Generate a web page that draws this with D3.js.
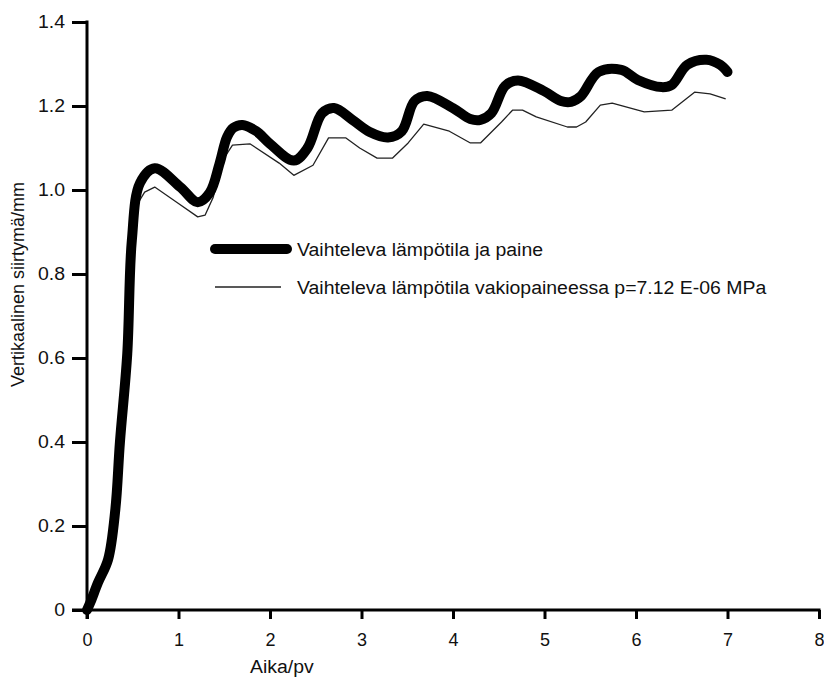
<!DOCTYPE html>
<html>
<head>
<meta charset="utf-8">
<script src="https://cdn.jsdelivr.net/npm/d3@7"></script>
<style>
  html, body { margin: 0; padding: 0; background: #fff; }
  svg { display: block; }
  text { font-family: "Liberation Sans", Arial, sans-serif; fill: #111; }
</style>
</head>
<body>
<svg id="chart" width="824" height="677"></svg>
<script>
// ---- data ----
const xTicks = [0, 1, 2, 3, 4, 5, 6, 7, 8];
const yTicks = [0, 0.2, 0.4, 0.6, 0.8, 1.0, 1.2, 1.4];
const yTickLabels = ["0", "0.2", "0.4", "0.6", "0.8", "1.0", "1.2", "1.4"];
const xLabel = "Aika/pv";
const yLabel = "Vertikaalinen siirtymä/mm";
const seriesNames = ["Vaihteleva lämpötila ja paine", "Vaihteleva lämpötila vakiopaineessa p=7.12 E-06 MPa"];

const thickX = [0, 0.04, 0.12, 0.23, 0.31, 0.36, 0.44, 0.49, 0.58, 0.74, 1.02, 1.21, 1.34, 1.45, 1.53, 1.6, 1.70, 1.85, 2.0, 2.26, 2.41, 2.57, 2.70, 2.90, 3.09, 3.29, 3.44, 3.58, 3.72, 4.0, 4.19, 4.30, 4.42, 4.57, 4.71, 4.99, 5.18, 5.29, 5.40, 5.59, 5.84, 6.02, 6.28, 6.39, 6.56, 6.77, 6.92, 7.0];
const thickY = [0, 0.02, 0.065, 0.12, 0.24, 0.40, 0.61, 0.88, 1.017, 1.052, 1.007, 0.971, 0.993, 1.064, 1.126, 1.148, 1.155, 1.14, 1.11, 1.07, 1.10, 1.183, 1.195, 1.167, 1.138, 1.125, 1.14, 1.212, 1.224, 1.195, 1.169, 1.167, 1.183, 1.248, 1.261, 1.236, 1.212, 1.210, 1.224, 1.281, 1.286, 1.262, 1.245, 1.250, 1.298, 1.31, 1.298, 1.281];

const thinX = [0, 0.04, 0.12, 0.23, 0.31, 0.36, 0.44, 0.49, 0.56, 0.63, 0.74, 0.98, 1.21, 1.29, 1.38, 1.48, 1.59, 1.78, 2.1, 2.26, 2.47, 2.64, 2.83, 2.98, 3.17, 3.34, 3.51, 3.68, 3.96, 4.19, 4.30, 4.53, 4.65, 4.76, 4.91, 5.25, 5.35, 5.45, 5.61, 5.74, 6.09, 6.39, 6.64, 6.81, 6.98];
const thinY = [0, 0.02, 0.065, 0.12, 0.24, 0.40, 0.61, 0.87, 0.97, 0.995, 1.007, 0.971, 0.936, 0.94, 0.983, 1.07, 1.107, 1.11, 1.064, 1.035, 1.059, 1.124, 1.124, 1.100, 1.076, 1.076, 1.112, 1.157, 1.140, 1.112, 1.112, 1.162, 1.190, 1.190, 1.174, 1.150, 1.150, 1.162, 1.202, 1.207, 1.186, 1.190, 1.233, 1.229, 1.217];

// ---- layout ----
const svg = d3.select("#chart");
const x = d3.scaleLinear().domain([0, 8]).range([87, 819]);
const y = d3.scaleLinear().domain([0, 1.4]).range([610, 22]);
const FS = 18;
const STRETCH = 1.08;

function stretch(sel) {
  sel.each(function () {
    const w = this.getComputedTextLength();
    d3.select(this).attr("textLength", w * STRETCH).attr("lengthAdjust", "spacingAndGlyphs");
  });
}

// axes
const gx = svg.append("g").attr("transform", `translate(0,${y(0)})`)
  .call(d3.axisBottom(x).tickValues(xTicks).tickFormat(d3.format("d")).tickSize(9).tickPadding(14));
const gy = svg.append("g").attr("transform", `translate(${x(0)},0)`)
  .call(d3.axisLeft(y).tickValues(yTicks).tickFormat((d, i) => yTickLabels[i]).tickSize(15).tickPadding(7));

[gx, gy].forEach(g => {
  g.select(".domain").remove();
  g.selectAll(".tick line").attr("stroke", "#000").attr("stroke-width", 3);
  g.selectAll(".tick text").attr("font-size", FS).attr("font-family", "Liberation Sans, Arial, sans-serif").attr("fill", "#111");
});
stretch(gy.selectAll(".tick text"));
// axis lines
svg.append("line").attr("x1", 72).attr("x2", x(8) + 1.5).attr("y1", y(0)).attr("y2", y(0))
  .attr("stroke", "#000").attr("stroke-width", 3);
svg.append("line").attr("x1", x(0)).attr("x2", x(0)).attr("y1", y(1.4) - 1.5).attr("y2", y(0) + 9)
  .attr("stroke", "#000").attr("stroke-width", 3);

// axis titles
svg.append("text").attr("x", 250).attr("y", 673).attr("font-size", FS).text(xLabel).call(stretch);
svg.append("text").attr("transform", `translate(24,${387}) rotate(-90)`).attr("font-size", FS).text(yLabel);

// lines
const thinData = thinX.map((v, i) => [v, thinY[i]]);
const thickData = thickX.map((v, i) => [v, thickY[i]]);

svg.append("path").datum(thinData)
  .attr("d", d3.line().x(d => x(d[0])).y(d => y(d[1])).curve(d3.curveLinear))
  .attr("fill", "none").attr("stroke", "#222").attr("stroke-width", 1.3).attr("stroke-linejoin", "round");
svg.append("path").datum(thickData)
  .attr("d", d3.line().x(d => x(d[0])).y(d => y(d[1])).curve(d3.curveCatmullRom.alpha(0.5)))
  .attr("fill", "none").attr("stroke", "#000").attr("stroke-width", 10)
  .attr("stroke-linejoin", "round").attr("stroke-linecap", "round");

// legend
const leg = svg.append("g");
leg.append("line").attr("x1", 215).attr("x2", 287).attr("y1", 249).attr("y2", 249)
  .attr("stroke", "#000").attr("stroke-width", 10).attr("stroke-linecap", "round");
leg.append("text").attr("x", 297).attr("y", 255.5).attr("font-size", FS).text(seriesNames[0]).call(stretch);
leg.append("line").attr("x1", 215).attr("x2", 281).attr("y1", 287).attr("y2", 287)
  .attr("stroke", "#222").attr("stroke-width", 1.3);
leg.append("text").attr("x", 297).attr("y", 294).attr("font-size", FS).text(seriesNames[1]).call(stretch);
</script>
</body>
</html>
